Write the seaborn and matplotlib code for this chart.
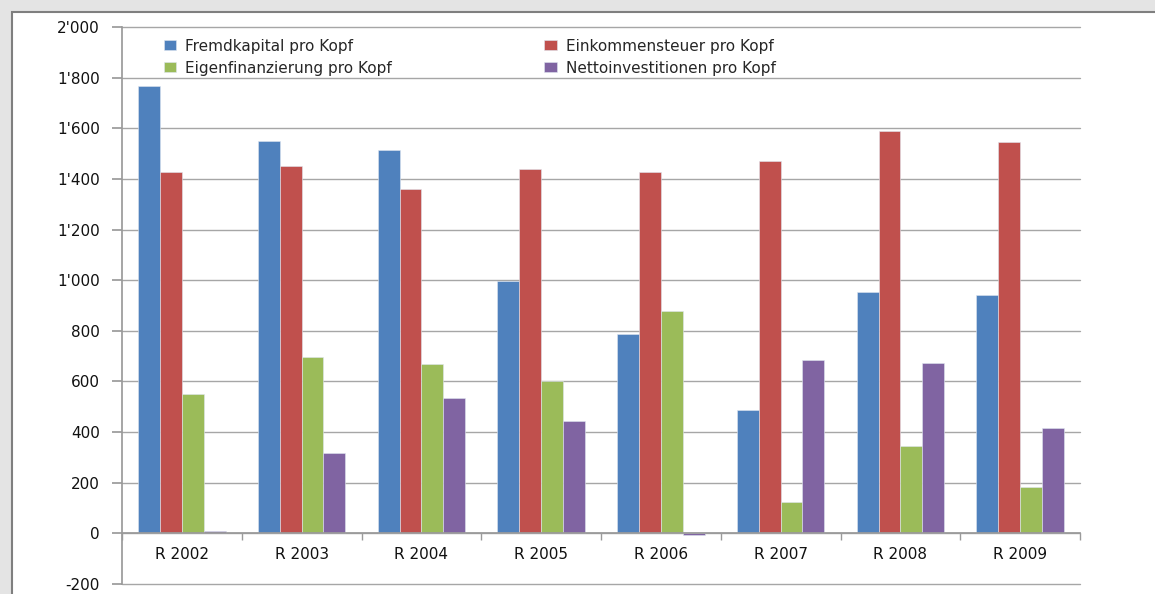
import matplotlib
matplotlib.use("Agg")
import matplotlib.pyplot as plt
import seaborn as sns
import pandas as pd
import numpy as np
from matplotlib.patches import Rectangle
from matplotlib.ticker import FuncFormatter, FixedLocator

categories = ["R 2002", "R 2003", "R 2004", "R 2005", "R 2006", "R 2007", "R 2008", "R 2009"]
series_names = ["Fremdkapital pro Kopf", "Einkommensteuer pro Kopf",
                "Eigenfinanzierung pro Kopf", "Nettoinvestitionen pro Kopf"]
fremdkapital = [1767, 1550, 1515, 995, 787, 486, 953, 941]
einkommensteuer = [1428, 1450, 1360, 1439, 1427, 1470, 1589, 1545]
eigenfinanzierung = [550, 695, 668, 601, 877, 123, 344, 182]
nettoinvestitionen = [8, 316, 534, 443, -8, 684, 672, 415]
colors = ["#4F81BD", "#C0504D", "#9BBB59", "#8064A2"]
y_ticks = [-200, 0, 200, 400, 600, 800, 1000, 1200, 1400, 1600, 1800, 2000]

rows = []
for name, vals in zip(series_names, [fremdkapital, einkommensteuer, eigenfinanzierung, nettoinvestitionen]):
    for c, v in zip(categories, vals):
        rows.append({"Jahr": c, "Serie": name, "Wert": v})
df = pd.DataFrame(rows)

sns.set_theme(style="white")
plt.rcParams['font.family'] = ['DejaVu Sans']

FS = 11
fig = plt.figure(figsize=(11.55, 5.94), dpi=100)
fig.patch.set_facecolor("#e4e4e4")
W, H = 1155, 594
# white chart panel with border (open to the right and bottom)
fig.patches.append(Rectangle((11.5 / W, -0.05), 1.1, 1.05 - 12 / H, transform=fig.transFigure,
                             facecolor="white", edgecolor="#7f7f7f", linewidth=1.5, zorder=-10))

ax = fig.add_axes([122 / W, 10 / H, (1080 - 122) / W, (584 - 27) / H])
ax.set_facecolor("none")
ax.set_zorder(5)

sns.barplot(data=df, x="Jahr", y="Wert", hue="Serie", order=categories, hue_order=series_names,
            palette=colors, width=0.73, ax=ax, edgecolor="#dfe6f0", linewidth=0.4, saturation=1)

ax.set_ylim(-200, 2000)
ax.set_xlim(-0.5, len(categories) - 0.5)
ax.yaxis.set_major_locator(FixedLocator(y_ticks))

def fmt(v, pos):
    v = int(round(v))
    s = f"{abs(v):,}".replace(",", "'")
    return ("-" if v < 0 else "") + s
ax.yaxis.set_major_formatter(FuncFormatter(fmt))
ax.grid(axis="y", color="#a6a6a6", linewidth=1.0)
ax.set_axisbelow(True)
for gl in ax.get_ygridlines():
    gl.set_clip_on(False)

for s in ["top", "right"]:
    ax.spines[s].set_visible(False)
ax.spines["left"].set_color("#9a9a9a")
ax.spines["bottom"].set_position(("data", 0))
ax.spines["bottom"].set_color("#9a9a9a")

ax.tick_params(axis="y", which="major", length=7, color="#9a9a9a", labelsize=FS,
               labelcolor="#111111", pad=9, left=True)
ax.set_xticks(np.arange(len(categories)))
ax.set_xticklabels(categories)
ax.set_xticks(np.arange(len(categories) + 1) - 0.5, minor=True)
ax.tick_params(axis="x", which="major", length=0, labelsize=FS, labelcolor="#111111", pad=10)
ax.tick_params(axis="x", which="minor", length=5, color="#9a9a9a", bottom=True, direction="out")
ax.set_xlabel("")
ax.set_ylabel("")

handles, labels = ax.get_legend_handles_labels()
order = [0, 2, 1, 3]
ax.legend([handles[i] for i in order], [labels[i] for i in order], ncol=2, frameon=False,
          loc="upper left", bbox_to_anchor=(0.037, 0.99), fontsize=FS,
          handlelength=0.8, handleheight=0.6, handletextpad=0.6, columnspacing=10.0,
          labelspacing=0.45, borderaxespad=0)

fig.savefig("out.png", dpi=100, facecolor=fig.get_facecolor())
